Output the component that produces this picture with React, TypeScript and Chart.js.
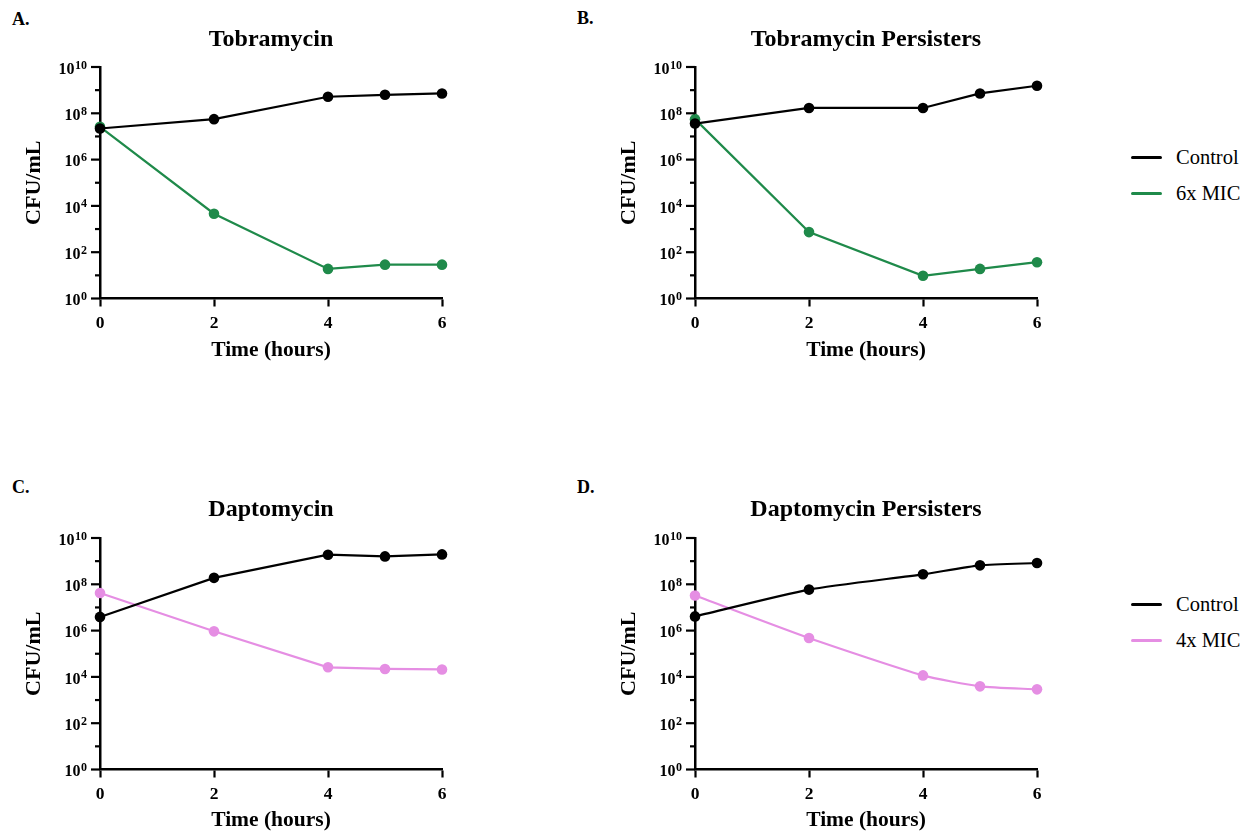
import React, { useEffect, useRef } from 'react';
import { Chart, registerables } from 'chart.js';

Chart.register(...registerables);

const FONT = '"Liberation Serif", "Times New Roman", serif';

// ---- data ----
const timeHours = [0, 2, 4, 5, 6];
const xTickValues = [0, 2, 4, 6];
const yDecadeExponents = [0, 1, 2, 3, 4, 5, 6, 7, 8, 9, 10];
const yLabelExponents = [0, 2, 4, 6, 8, 10];

const tobraControl = [2.2e7, 5.6e7, 5.2e8, 6.3e8, 7.2e8];
const tobra6xMIC = [2.6e7, 4.6e3, 19, 29, 29];
const tobraPersControl = [3.6e7, 1.7e8, 1.7e8, 7.2e8, 1.55e9];
const tobraPers6xMIC = [5.6e7, 740, 9.6, 19, 37];
const daptoControl = [3.9e6, 1.9e8, 1.9e9, 1.6e9, 1.96e9];
const dapto4xMIC = [4.2e7, 9.3e5, 2.6e4, 2.2e4, 2.1e4];
const daptoPersControl = [4.1e6, 5.9e7, 2.7e8, 6.6e8, 8.3e8];
const daptoPers4xMIC = [3.3e7, 4.8e5, 1.16e4, 3.9e3, 2.9e3];

const GREEN = '#1f8a4a';
const PINK = '#e58ee3';

const logTickPlugin = {
  id: 'logTicks',
  afterDraw(chart: any) {
    const y = chart.scales.y;
    const ctx = chart.ctx;
    const left = chart.chartArea.left;
    ctx.save();
    ctx.strokeStyle = '#000';
    ctx.fillStyle = '#000';
    ctx.lineWidth = 2.2;
    yDecadeExponents.forEach((e) => {
      const py = y.getPixelForValue(Math.pow(10, e));
      const major = yLabelExponents.includes(e);
      const len = major ? 9 : 5;
      ctx.beginPath();
      ctx.moveTo(left - len, py);
      ctx.lineTo(left, py);
      ctx.stroke();
      if (major) {
        const right = left - 13;
        const exp = String(e);
        ctx.font = `bold 12px ${FONT}`;
        const ew = ctx.measureText(exp).width;
        ctx.textAlign = 'right';
        ctx.textBaseline = 'alphabetic';
        ctx.fillText(exp, right, py + 1.5);
        ctx.font = `bold 16px ${FONT}`;
        ctx.textBaseline = 'middle';
        ctx.fillText('10', right - ew - 0.5, py + 2.5);
      }
    });
    ctx.restore();
  },
};

type PanelProps = {
  title: string;
  control: number[];
  treat: number[];
  treatLabel: string;
  treatColor: string;
  left: number;
  top: number;
  height: number;
  titlePadTop: number;
  titlePadBottom: number;
  xTitlePadBottom: number;
  tension: number;
};

function Panel(p: PanelProps) {
  const ref = useRef<HTMLCanvasElement | null>(null);
  useEffect(() => {
    if (!ref.current) return;
    const plotBottom = 298.5;
    const mk = (label: string, vals: number[], color: string) => ({
      label,
      data: timeHours.map((t, i) => ({ x: t, y: vals[i] })),
      borderColor: color,
      backgroundColor: color,
      pointBackgroundColor: color,
      pointBorderColor: color,
      pointBorderWidth: 0,
      pointRadius: 5.3,
      borderWidth: 2.2,
      tension: p.tension,
      clip: false as any,
    });
    const chart = new Chart(ref.current, {
      type: 'line',
      data: {
        datasets: [mk('Control', p.control, '#000'), mk(p.treatLabel, p.treat, p.treatColor)],
      },
      options: {
        responsive: false,
        animation: false,
        layout: { padding: { left: 0, right: 58, top: 0, bottom: 0 } },
        plugins: {
          legend: { display: false },
          tooltip: { enabled: false },
          title: {
            display: true,
            fullSize: false,
            text: p.title,
            color: '#000',
            font: { family: FONT, size: 24, weight: 'bold', lineHeight: 1.2 },
            padding: { top: p.titlePadTop, bottom: p.titlePadBottom },
          },
        },
        scales: {
          x: {
            type: 'linear',
            min: 0,
            max: 6,
            afterBuildTicks: (s: any) => {
              s.ticks = xTickValues.map((v) => ({ value: v }));
            },
            afterFit: (s: any) => {
              s.height = p.height - plotBottom;
            },
            ticks: {
              color: '#000',
              font: { family: FONT, size: 17.5, weight: 'bold', lineHeight: 1.2 },
              padding: 6.5,
              maxRotation: 0,
              autoSkip: false,
            },
            grid: {
              display: true,
              drawOnChartArea: false,
              drawTicks: true,
              tickLength: 8,
              tickWidth: 2.2,
              tickColor: '#000',
            },
            border: { display: true, color: '#000', width: 2.5 },
            title: {
              display: true,
              text: 'Time (hours)',
              color: '#000',
              font: { family: FONT, size: 21.5, weight: 'bold', lineHeight: 1 },
              padding: { top: 0, bottom: p.xTitlePadBottom },
            },
          },
          y: {
            type: 'logarithmic',
            min: 1,
            max: 1e10,
            afterBuildTicks: (s: any) => {
              s.ticks = yDecadeExponents.map((e) => ({ value: Math.pow(10, e) }));
            },
            afterFit: (s: any) => {
              s.width = 100;
            },
            ticks: { display: false },
            grid: { display: false },
            border: { display: true, color: '#000', width: 2.5 },
            title: {
              display: true,
              text: 'CFU/mL',
              color: '#000',
              font: { family: FONT, size: 22, weight: 'bold', lineHeight: 1 },
              padding: { top: 23, bottom: 0 },
            },
          },
        },
      } as any,
      plugins: [logTickPlugin],
    });
    return () => chart.destroy();
  }, []);
  return (
    <canvas
      ref={ref}
      width={500}
      height={p.height}
      style={{ position: 'absolute', left: p.left, top: p.top, width: 500, height: p.height }}
    />
  );
}

const letterStyle: React.CSSProperties = {
  position: 'absolute',
  fontFamily: FONT,
  fontWeight: 'bold',
  fontSize: 18,
  lineHeight: '24px',
  color: '#000',
  whiteSpace: 'nowrap',
};

function LegendItem({ x, y, color, label }: { x: number; y: number; color: string; label: string }) {
  return (
    <>
      <div
        style={{ position: 'absolute', left: x, top: y - 1.5, width: 31, height: 3, background: color, borderRadius: 1.5 }}
      />
      <div
        style={{
          position: 'absolute',
          left: x + 45,
          top: y - 12.1,
          fontFamily: FONT,
          fontSize: 20.5,
          lineHeight: '24px',
          color: '#000',
          whiteSpace: 'nowrap',
        }}
      >
        {label}
      </div>
    </>
  );
}

export default function App() {
  return (
    <div style={{ position: 'absolute', left: 0, top: 0, width: 1246, height: 832, background: '#fff', overflow: 'hidden' }}>
      <div style={{ ...letterStyle, left: 12, top: 6.5 }}>A.</div>
      <div style={{ ...letterStyle, left: 577, top: 6 }}>B.</div>
      <div style={{ ...letterStyle, left: 12, top: 475 }}>C.</div>
      <div style={{ ...letterStyle, left: 577, top: 475 }}>D.</div>

      <Panel title="Tobramycin" control={tobraControl} treat={tobra6xMIC} treatLabel="6x MIC" treatColor={GREEN}
        left={0} top={0} height={370} titlePadTop={25.6} titlePadBottom={12.6} xTitlePadBottom={9.25} tension={0} />
      <Panel title="Tobramycin Persisters" control={tobraPersControl} treat={tobraPers6xMIC} treatLabel="6x MIC" treatColor={GREEN}
        left={595} top={0} height={370} titlePadTop={25.6} titlePadBottom={12.6} xTitlePadBottom={9.25} tension={0} />
      <Panel title="Daptomycin" control={daptoControl} treat={dapto4xMIC} treatLabel="4x MIC" treatColor={PINK}
        left={0} top={471} height={361} titlePadTop={24.6} titlePadBottom={13.6} xTitlePadBottom={0.95} tension={0} />
      <Panel title="Daptomycin Persisters" control={daptoPersControl} treat={daptoPers4xMIC} treatLabel="4x MIC" treatColor={PINK}
        left={595} top={471} height={361} titlePadTop={24.6} titlePadBottom={13.6} xTitlePadBottom={0.95} tension={0.2} />

      <LegendItem x={1131} y={157} color="#000" label="Control" />
      <LegendItem x={1131} y={193.5} color={GREEN} label="6x MIC" />
      <LegendItem x={1131} y={604} color="#000" label="Control" />
      <LegendItem x={1131} y={640.5} color={PINK} label="4x MIC" />
    </div>
  );
}
